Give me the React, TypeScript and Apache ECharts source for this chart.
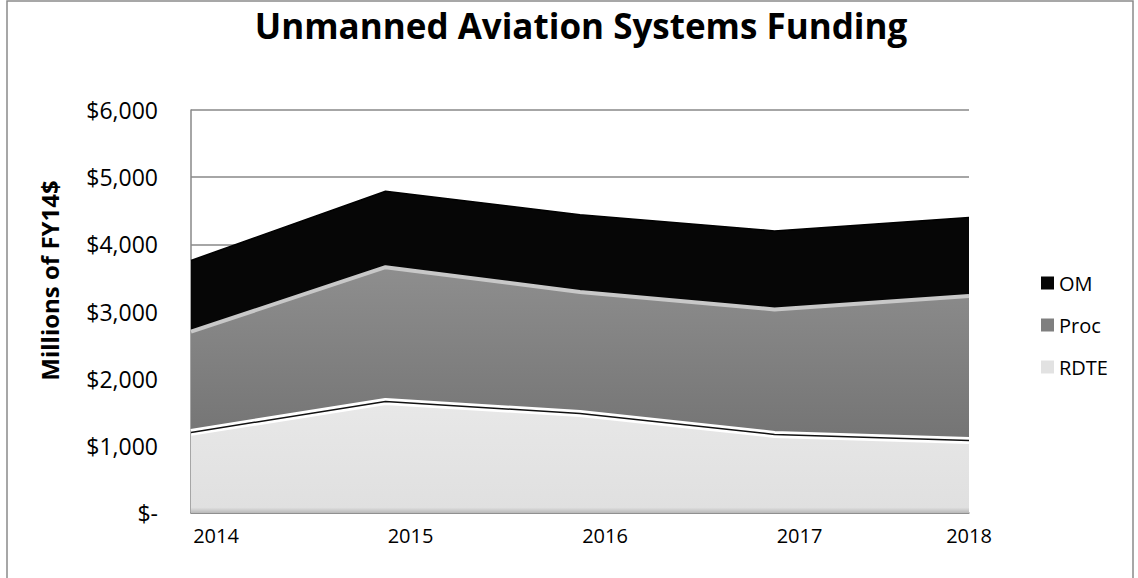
import React, { useEffect, useRef } from "react";
import * as echarts from "echarts";

const years = ["2014", "2015", "2016", "2017", "2018"];
const rdte = [1200, 1660, 1480, 1170, 1080];
const proc = [1500, 2000, 1810, 1860, 2150];
const om = [1060, 1130, 1150, 1170, 1170];
const yTicks = [0, 1000, 2000, 3000, 4000, 5000, 6000];

const FONT = "'Open Sans', Lato, sans-serif";

export default function App() {
  const ref = useRef<HTMLDivElement>(null);
  useEffect(() => {
    if (!ref.current) return;
    const chart = echarts.init(ref.current, undefined, { renderer: "svg" });
    const n = years.length;
    chart.setOption({
      animation: false,
      backgroundColor: "#ffffff",
      textStyle: { fontFamily: FONT, color: "#000" },
      title: {
        text: "Unmanned Aviation Systems Funding",
        left: 576,
        textAlign: "center",
        top: 3,
        textStyle: { fontFamily: FONT, fontWeight: "bold", fontSize: 35, color: "#000" },
      },
      graphic: [
        {
          type: "rect",
          shape: { x: 7, y: 1, width: 1126, height: 620 },
          style: { fill: "none", stroke: "#8a8a8a", lineWidth: 1.5 },
          silent: true,
          z: 100,
        },
      ],
      legend: {
        data: ["OM", "Proc", "RDTE"],
        orient: "vertical",
        left: 1036,
        top: 268,
        itemWidth: 13,
        itemHeight: 13,
        itemGap: 22,
        icon: "rect",
        textStyle: { fontFamily: FONT, fontSize: 20, color: "#000" },
      },
      grid: { left: 191, right: 169, top: 110, bottom: 65 },
      xAxis: {
        type: "category",
        boundaryGap: false,
        data: years,
        axisLine: { show: true, lineStyle: { color: "#888", width: 1.5 } },
        axisTick: { show: false },
        axisLabel: {
          margin: 12,
          fontSize: 20,
          color: "#000",
          fontFamily: FONT,
          formatter: (v: string, i: number) => (i < n - 1 ? "{s|" + v + "}" : v),
          rich: { s: { padding: [0, 0, 0, 50], fontSize: 20, fontFamily: FONT, color: "#000" } },
        },
      },
      yAxis: {
        type: "value",
        min: yTicks[0],
        max: yTicks[yTicks.length - 1],
        interval: 1000,
        name: "Millions of FY14$",
        nameLocation: "middle",
        nameGap: 130,
        nameTextStyle: {
          fontFamily: FONT,
          fontWeight: "bold",
          fontSize: 24,
          color: "#000",
          padding: [0, 0, 0, 62],
        },
        axisLine: { show: true, lineStyle: { color: "#888", width: 1.5 } },
        axisTick: { show: false },
        splitLine: { lineStyle: { color: "#888", width: 1.5 } },
        axisLabel: {
          margin: 33,
          fontSize: 23,
          color: "#000",
          fontFamily: FONT,
          formatter: (v: number) => (v === 0 ? "$-" : "$" + v.toLocaleString("en-US")),
        },
      },
      series: [
        {
          name: "RDTE",
          type: "line",
          stack: "total",
          data: rdte,
          symbol: "none",
          itemStyle: { color: "#e2e2e2" },
          lineStyle: { color: "#ffffff", width: 7 },
          areaStyle: {
            opacity: 1,
            color: new echarts.graphic.LinearGradient(0, 0, 0, 1, [
              { offset: 0, color: "#e8e8e8" },
              { offset: 0.95, color: "#e0e0e0" },
              { offset: 1, color: "#b8b8b8" },
            ]),
          },
        },
        {
          name: "Proc",
          type: "line",
          stack: "total",
          data: proc,
          symbol: "none",
          itemStyle: { color: "#7f7f7f" },
          lineStyle: { color: "#c8c8c8", width: 4 },
          areaStyle: {
            opacity: 1,
            color: new echarts.graphic.LinearGradient(0, 0, 0, 1, [
              { offset: 0, color: "#8e8e8e" },
              { offset: 1, color: "#747474" },
            ]),
          },
        },
        {
          name: "OM",
          type: "line",
          stack: "total",
          data: om,
          symbol: "none",
          itemStyle: { color: "#050505" },
          lineStyle: { color: "#000", width: 1.5 },
          areaStyle: { opacity: 1, color: "#060606" },
        },
        {
          name: "edge",
          type: "line",
          data: rdte,
          symbol: "none",
          z: 5,
          silent: true,
          lineStyle: { color: "#111", width: 1.5 },
          itemStyle: { color: "#111" },
        },
      ],
    });
    return () => chart.dispose();
  }, []);
  return (
    <div
      ref={ref}
      style={{ position: "fixed", left: 0, top: 0, width: 1138, height: 578 }}
    />
  );
}
